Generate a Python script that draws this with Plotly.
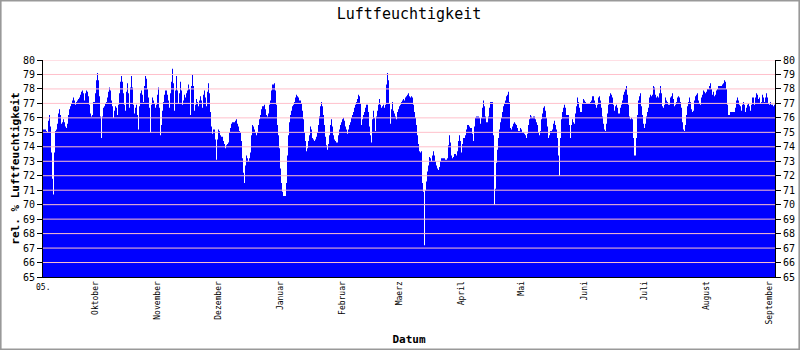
import pandas as pd
import plotly.graph_objects as go

# Relative humidity (%), half-day steps, 05.09.2006 - 04.09.2007
humidity_autumn = [
    75.2, 75.2, 75.2, 75.1, 75.0, 75.8, 76.2, 75.4, 73.6, 71.8,
    70.7, 73.6, 75.1, 75.2, 75.6, 76.3, 76.6, 76.2, 75.6, 75.7,
    75.9, 75.7, 75.4, 75.3, 75.6, 76.2, 76.6, 76.8, 77.0, 77.2,
    77.4, 77.2, 76.9, 77.1, 77.2, 77.3, 77.4, 77.6, 77.8, 77.9,
    77.7, 77.2, 77.7, 77.9, 77.8, 77.5, 76.9, 76.3, 76.1, 76.2,
    77.1, 77.1, 77.7, 78.6, 79.1, 78.6, 77.5, 76.1, 74.6, 76.1,
    76.7, 76.8, 77.0, 77.1, 77.4, 77.8, 78.1, 77.9, 77.2, 76.8,
    76.0, 76.5, 76.8, 76.7, 76.2, 76.9, 77.7, 78.5, 78.9, 78.5,
    77.7, 76.9, 76.5, 77.8, 78.4, 77.7, 76.7, 78.1, 78.9, 78.1,
    76.9, 76.3, 76.7, 76.9, 76.2, 75.2, 76.8, 77.7, 77.9, 77.6,
    77.1, 78.2, 78.9, 78.7, 78.0, 77.4, 76.7, 75.0, 76.9, 77.4,
    77.2, 77.0, 76.7, 76.9, 77.6, 78.1, 76.7, 74.8, 75.5, 76.5,
    77.1, 77.6, 77.9, 77.9, 77.6, 77.2, 76.7, 77.7, 78.5, 79.4,
    78.4, 76.5, 77.9, 78.9, 77.9, 77.0, 77.7, 78.5, 77.9, 76.9,
    77.2, 77.6, 77.4, 77.7, 77.9, 78.3, 78.0, 76.2, 78.2, 79.0,
    78.2, 76.5, 76.9, 77.3, 77.1, 76.8, 77.2, 77.5, 77.2, 76.7,
    77.6, 77.9, 77.4, 76.8, 77.8, 78.4, 77.7, 76.4, 75.4, 74.9,
    75.2, 75.2, 74.5, 73.1, 74.5, 75.2, 75.1, 74.8, 74.7, 74.7,
    74.4, 74.2,
]

humidity_winter = [
    73.9, 74.1, 74.2, 74.3, 75.0, 75.3, 75.6, 75.7, 75.7, 75.7,
    75.8, 75.9, 75.6, 75.4, 75.1, 75.0, 74.4, 73.2, 72.2, 71.5,
    72.7, 73.4, 73.2, 73.0, 73.2, 73.6, 74.8, 75.5, 75.4, 75.2,
    75.0, 74.8, 75.0, 75.5, 75.9, 76.2, 76.6, 76.8, 76.8, 76.9,
    76.6, 76.2, 76.1, 76.3, 76.9, 77.2, 77.9, 78.3, 78.3, 78.4,
    77.9, 76.9, 75.5, 74.8, 73.9, 72.5, 71.5, 70.9, 70.6, 70.6,
    70.6, 71.5, 73.4, 74.8, 75.7, 76.2, 76.5, 76.8, 76.9, 77.1,
    77.4, 77.6, 77.5, 77.4, 77.2, 77.2, 77.0, 76.5, 75.9, 75.0,
    74.4, 73.7, 73.9, 74.4, 74.8, 75.4, 75.2, 74.6, 74.5, 74.4,
    74.5, 74.7, 75.0, 75.5, 76.1, 76.8, 77.1, 76.8, 76.2, 75.5,
    74.7, 74.1, 73.8, 74.2, 74.8, 75.5, 75.9, 75.4, 74.8, 74.5,
    74.4, 74.3, 74.3, 74.8, 75.2, 75.5, 75.7, 75.9, 76.0, 75.8,
    75.4, 75.2, 74.9, 75.2, 75.5, 75.7, 76.0, 76.2, 76.4, 76.7,
    76.9, 77.1, 77.3, 77.6, 77.5, 77.0, 75.5, 75.9, 76.2, 76.4,
    76.7, 76.9, 76.9, 76.4, 75.4, 74.8, 74.3, 75.9, 76.5, 76.0,
    75.1, 76.1, 76.5, 76.9, 77.3, 76.9, 76.7, 76.8, 76.9, 76.7,
    76.9, 78.3, 79.1, 78.6, 77.0, 75.6, 76.6, 77.1, 76.5, 76.3,
    76.1, 75.9, 76.4, 76.6, 76.8, 76.9, 77.1, 77.2, 77.3, 77.2,
    77.4, 77.5,
]

humidity_spring = [
    77.6, 77.7, 77.5, 77.4, 77.5, 77.4, 76.9, 76.4, 76.0, 75.5,
    74.8, 74.2, 73.7, 73.6, 73.7, 71.5, 70.9, 67.2, 71.0, 71.6,
    72.3, 72.7, 73.3, 73.2, 73.0, 73.4, 73.7, 73.4, 73.0, 72.7,
    72.5, 72.4, 72.6, 73.0, 73.2, 73.2, 73.2, 73.2, 73.1, 73.1,
    73.2, 74.1, 74.8, 74.3, 73.4, 73.2, 73.3, 73.5, 73.5, 73.4,
    73.7, 74.4, 74.8, 74.4, 73.6, 74.2, 74.6, 74.6, 74.8, 75.2,
    75.5, 75.5, 75.4, 75.3, 75.3, 74.9, 74.4, 75.4, 76.0, 76.1,
    76.1, 76.1, 76.0, 75.6, 76.0, 76.7, 77.2, 76.8, 76.1, 75.7,
    75.7, 76.1, 76.7, 77.1, 77.1, 77.1, 74.8, 70.0, 71.1, 72.9,
    73.8, 74.6, 75.2, 75.7, 76.0, 76.4, 76.8, 77.0, 77.2, 77.5,
    77.6, 77.8, 77.1, 75.3, 75.2, 75.4, 75.6, 75.7, 75.6, 75.5,
    75.3, 75.1, 75.1, 75.3, 75.2, 75.0, 75.0, 74.9, 74.8, 74.6,
    74.9, 75.5, 75.9, 76.2, 76.1, 76.0, 76.1, 76.1, 75.9, 75.7,
    75.5, 75.0, 74.8, 75.1, 75.9, 76.3, 76.7, 76.8, 76.5, 76.0,
    75.4, 74.6, 74.8, 75.1, 75.1, 75.2, 75.6, 75.8, 75.5, 75.2,
    74.6, 73.4, 72.0, 74.6, 75.9, 76.4, 76.7, 76.9, 76.7, 76.2,
    76.2, 76.2, 75.5, 74.6, 75.5, 75.9, 75.7, 75.6, 76.3, 76.8,
    77.4, 77.1, 76.7, 76.4, 76.4, 77.0, 77.3, 77.2, 77.1, 77.0,
    77.0, 77.0,
]

humidity_summer = [
    77.0, 77.1, 77.2, 77.5, 77.5, 77.2, 76.9, 76.7, 76.9, 77.4,
    77.5, 77.2, 76.7, 76.1, 75.6, 75.2, 75.1, 75.6, 76.3, 76.9,
    77.5, 77.7, 77.6, 77.4, 76.9, 76.5, 76.8, 76.9, 76.7, 76.3,
    76.3, 76.7, 76.9, 77.2, 77.6, 77.8, 78.0, 78.2, 77.6, 76.9,
    76.1, 75.9, 76.0, 75.9, 74.6, 73.4, 73.4, 74.6, 76.2, 77.2,
    77.5, 77.7, 76.8, 76.2, 75.6, 75.3, 75.6, 76.1, 76.4, 76.7,
    77.4, 77.6, 77.5, 77.6, 78.2, 78.1, 77.6, 77.4, 77.5, 77.4,
    77.7, 78.2, 77.7, 76.8, 76.7, 76.9, 77.4, 77.2, 77.1, 76.9,
    76.9, 77.4, 77.5, 77.7, 77.3, 76.8, 76.9, 77.1, 77.4, 77.5,
    77.4, 77.1, 76.7, 75.7, 75.2, 75.1, 75.5, 76.2, 76.8, 77.1,
    77.4, 77.1, 76.6, 76.4, 76.5, 77.2, 77.5, 77.6, 77.7, 77.2,
    77.0, 76.9, 77.4, 77.6, 77.9, 77.8, 77.7, 77.8, 78.0, 78.0,
    78.2, 78.4, 78.0, 77.6, 77.8, 77.5, 77.6, 77.9, 78.0, 78.2,
    78.2, 78.2, 78.2, 78.3, 78.4, 78.6, 78.5, 78.0, 76.9, 76.2,
    76.2, 76.4, 76.4, 76.4, 76.4, 76.4, 76.7, 77.2, 77.4, 77.2,
    76.9, 76.8, 76.5, 76.9, 77.1, 76.9, 76.4, 76.7, 76.9, 77.0,
    76.8, 76.5, 76.9, 77.4, 77.4, 76.9, 77.4, 77.7, 77.6, 77.3,
    77.4, 77.0, 77.1, 77.6, 77.4, 77.1, 77.4, 77.7, 77.4, 77.0,
    76.9, 77.1, 76.9, 76.9, 76.8, 76.9,
]

humidity = humidity_autumn + humidity_winter + humidity_spring + humidity_summer

start_date = "2006-09-05"
end_date = "2007-09-04"

month_ticks = ["2006-10-01", "2006-11-01", "2006-12-01", "2007-01-01",
               "2007-02-01", "2007-03-01", "2007-04-01", "2007-05-01",
               "2007-06-01", "2007-07-01", "2007-08-01", "2007-09-01"]
month_labels = ["Oktober", "November", "Dezember", "Januar", "Februar",
                "Maerz", "April", "Mai", "Juni", "Juli", "August",
                "September"]
start_label = "05."

y_min, y_max = 65, 80

# step edges: one more edge than values so the last step is filled too
edges = pd.date_range(start_date, end_date, periods=len(humidity) + 1)
y_steps = humidity + [humidity[-1]]

mono = "DejaVu Sans Mono"

fig = go.Figure()
fig.add_trace(go.Scatter(
    x=edges, y=y_steps, mode="lines", line=dict(shape="hv", color="#0000FF", width=0),
    fill="tozeroy", fillcolor="#0000FF", hoverinfo="x+y", showlegend=False,
))
# companion trace so the right-hand axis is drawn
fig.add_trace(go.Scatter(
    x=edges, y=y_steps, yaxis="y2", mode="lines",
    line=dict(color="rgba(0,0,0,0)", width=0), hoverinfo="skip", showlegend=False,
))

# pink grid lines drawn over the filled area
shapes = []
for v in range(y_min + 1, y_max + 1):
    shapes.append(dict(type="line", xref="paper", x0=0, x1=1, yref="y", y0=v, y1=v,
                       line=dict(color="#FFC0CB", width=1), layer="above"))

L, R, T, B = 43, 25, 60, 73
W, H = 800, 350
pw, ph = W - L - R, H - T - B
# outer frame of the image
shapes.append(dict(type="rect", xref="paper", yref="paper",
                   x0=-L / pw + 0.6 / pw, x1=1 + R / pw - 0.6 / pw,
                   y0=-B / ph + 0.6 / ph, y1=1 + T / ph - 0.6 / ph,
                   line=dict(color="#999999", width=2), layer="above"))

yaxis_common = dict(
    range=[y_min, y_max], dtick=1, tick0=y_min, showgrid=False, zeroline=False,
    showline=True, linecolor="black", linewidth=1, ticks="outside", ticklen=5,
    tickcolor="black", tickfont=dict(family=mono, size=10, color="black"),
    fixedrange=True, automargin=False,
)

fig.update_layout(
    width=W, height=H,
    margin=dict(l=L, r=R, t=T, b=B, pad=0),
    paper_bgcolor="white", plot_bgcolor="white",
    title=dict(text="Luftfeuchtigkeit", x=0.5, xref="paper", xanchor="center",
               y=1 - 14 / H, yanchor="middle",
               font=dict(family=mono, size=15, color="black")),
    xaxis=dict(
        type="date", range=[start_date, end_date], showgrid=False, zeroline=False,
        showline=True, linecolor="black", linewidth=1, ticks="", automargin=False,
        tickvals=month_ticks, ticktext=month_labels, tickangle=-90,
        tickfont=dict(family=mono, size=8, color="black"),
        title=dict(text="<b>Datum</b>", font=dict(family=mono, size=11, color="black"),
                   standoff=11),
    ),
    yaxis=dict(**yaxis_common, side="left",
               title=dict(text="<b>rel. % Luftfeuchtigkeit</b>",
                          font=dict(family=mono, size=11, color="black"),
                          standoff=1)),
    yaxis2=dict(**yaxis_common, side="right", overlaying="y"),
    shapes=shapes,
    annotations=[dict(x=start_date, y=y_min, xref="x", yref="y", text=start_label,
                      showarrow=False, xanchor="center", yanchor="top", yshift=-4,
                      font=dict(family=mono, size=8, color="black"))],
)

fig.write_html("out.html")
